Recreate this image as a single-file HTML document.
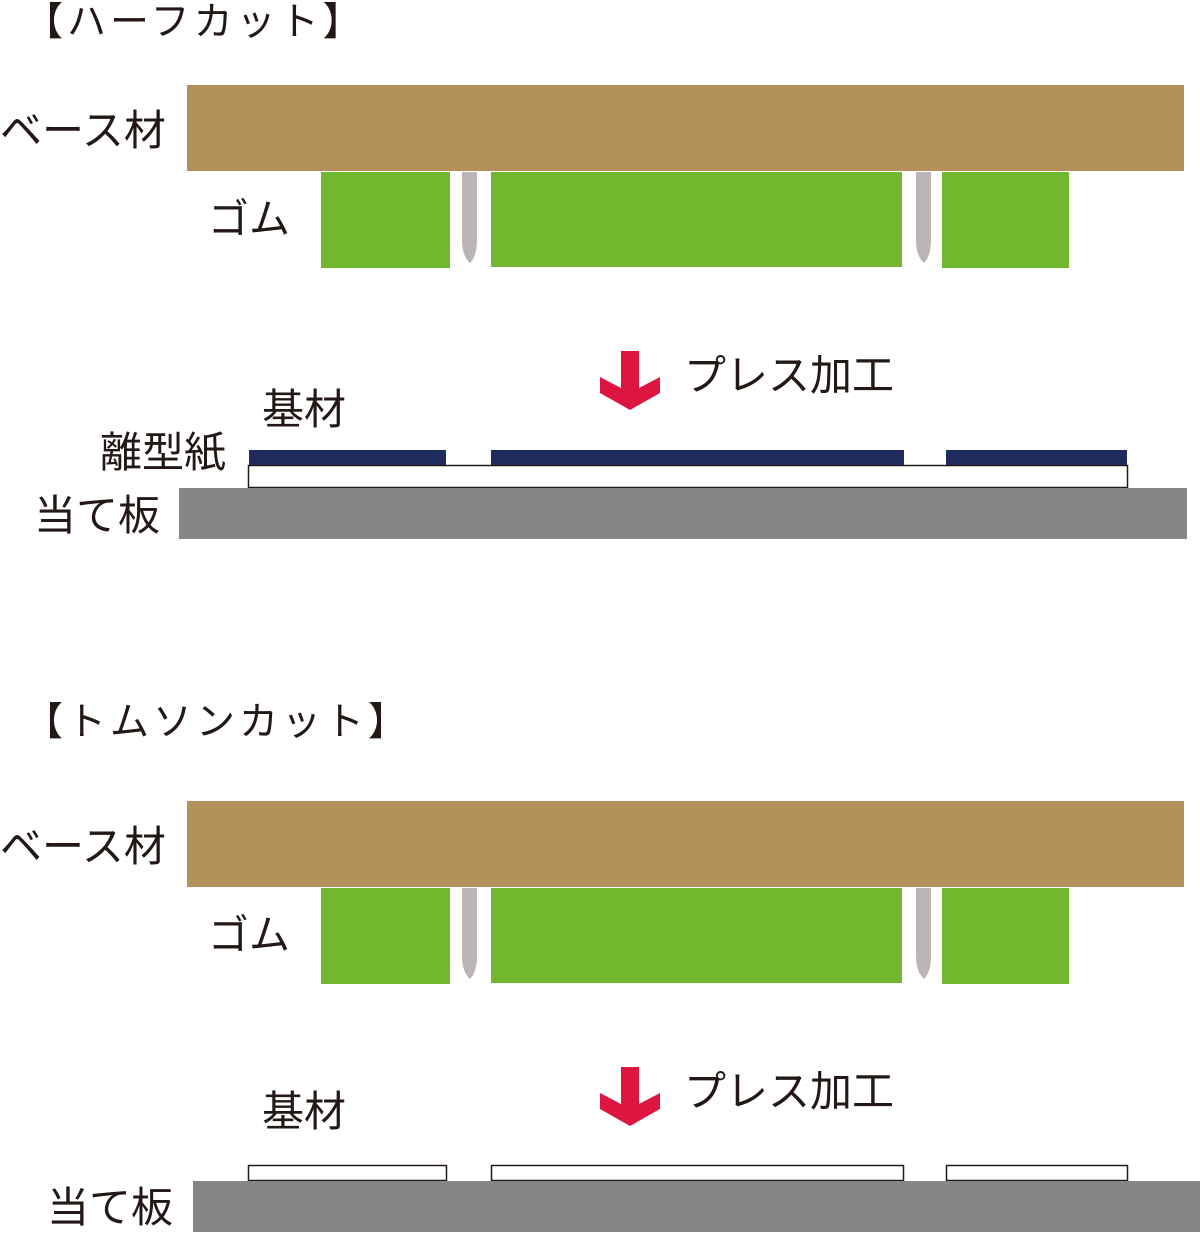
<!DOCTYPE html>
<html><head><meta charset="utf-8"><style>
body{margin:0;background:#fff;}
svg text{font-family:"Liberation Sans","Noto Sans CJK JP",sans-serif;fill:#231815;}
</style></head><body>
<svg width="1200" height="1237" viewBox="0 0 1200 1237" xmlns="http://www.w3.org/2000/svg">
<defs>
<g id="top">
<rect x="187" y="85" width="997" height="86" fill="#b4915a"/>
<rect x="321" y="172" width="129" height="96" fill="#72b82f"/>
<rect x="491" y="172" width="411" height="95" fill="#72b82f"/>
<rect x="942" y="172" width="127" height="96" fill="#72b82f"/>
<path d="M462,172 H477 V240 Q477,256 470,263 Q462,256 462,240 Z" fill="#bcb5b5"/>
<path d="M916,172 H931 V240 Q931,256 924,263 Q916,256 916,240 Z" fill="#bcb5b5"/>
<text x="0" y="145" font-size="42">ベース材</text>
<text x="208" y="233" font-size="41">ゴム</text>
<polygon points="621,351 639,351 639,388 660,377 660,393 630,410 600,393 600,377 621,388" fill="#dc1640"/>
<text x="684" y="390" font-size="42">プレス加工</text>
</g>
</defs>
<text x="24" y="35" font-size="39" letter-spacing="4">【ハーフカット】</text>
<use href="#top"/>
<text x="262" y="424" font-size="42">基材</text>
<text x="100" y="467" font-size="42">離型紙</text>
<rect x="248.5" y="465.5" width="879" height="22" fill="#fff" stroke="#231815" stroke-width="1.5"/>
<rect x="249" y="450" width="197" height="15" fill="#1e2b5c"/>
<rect x="491" y="450" width="413" height="15" fill="#1e2b5c"/>
<rect x="946" y="450" width="181" height="15" fill="#1e2b5c"/>
<rect x="179" y="488" width="1008" height="51" fill="#868686"/>
<text x="34" y="530" font-size="42">当て板</text>

<text x="24" y="735" font-size="39" letter-spacing="4">【トムソンカット】</text>
<g transform="translate(0,716)"><use href="#top"/></g>
<text x="262" y="1126" font-size="42">基材</text>
<rect x="248.5" y="1165.5" width="198" height="15" fill="#fff" stroke="#231815" stroke-width="1.5"/>
<rect x="491.5" y="1165.5" width="412" height="15" fill="#fff" stroke="#231815" stroke-width="1.5"/>
<rect x="946.5" y="1165.5" width="181" height="15" fill="#fff" stroke="#231815" stroke-width="1.5"/>
<rect x="193" y="1181" width="1007" height="51" fill="#868686"/>
<text x="47" y="1222" font-size="42">当て板</text>
</svg>
</body></html>
